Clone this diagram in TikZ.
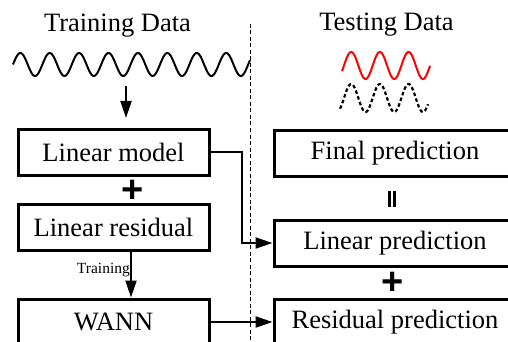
\documentclass[tikz,border=0pt]{standalone}
\usepackage{fontspec}
\setmainfont{Liberation Serif}
\newfontfamily\opfont{Liberation Sans}
\usetikzlibrary{arrows.meta}
\begin{document}
\begin{tikzpicture}[x=1pt,y=-1pt,
  box/.style={draw, line width=3pt, minimum height=46pt, inner sep=0pt,
    font=\rmfamily\fontsize{26.5}{30}\selectfont},
  lbox/.style={box, minimum width=191pt},
  rbox/.style={box, minimum width=242pt},
  link/.style={line width=2pt},
  arr/.style={link, -{Triangle[length=17pt,width=11pt]}},
  title/.style={font=\rmfamily\fontsize{26.5}{30}\selectfont, anchor=base, inner sep=0pt},
  op/.style={font=\opfont\bfseries\fontsize{38}{38}\selectfont, inner sep=0pt},
  % vertical equals sign: two upright bars
  eqbars/.style={minimum width=9pt, minimum height=16pt, inner sep=0pt,
    path picture={\draw[line width=3pt]
      ([xshift=-2.75pt]path picture bounding box.north) -- ([xshift=-2.75pt]path picture bounding box.south)
      ([xshift=2.75pt]path picture bounding box.north) -- ([xshift=2.75pt]path picture bounding box.south);}},
  wave/.style={line width=2pt},
]
\clip (0,0) rectangle (508,342);

% column titles
\node[title] (ttrain) at (117.5,32) {Training Data};
\node[title] (ttest) at (386.5,31) {Testing Data};

% separator between training and testing
\draw[line width=1pt, dash pattern=on 4pt off 2.5pt] (250,24) -- (250,342);

% signals (12.245 = 360/29.4, 12.544 = 360/28.7 degrees per unit)
\draw[wave] plot[domain=13:250, samples=260] (\x, {64.5-11.5*sin(12.245*(\x-13))});
\draw[wave, red] plot[domain=342:430, samples=120] (\x, {65.5-13.5*sin(12.544*(\x-344))});
\draw[wave, line width=2.2pt, dash pattern=on 3.5pt off 2.5pt]
  plot[domain=340:428, samples=120] (\x, {98-14*sin(12.544*(\x-344))});

% training side
\node[lbox] (lm) at (113.5,152) {Linear model};
\node[lbox] (lr) at (113.5,227.5) {Linear residual};
\node[lbox] (wann) at (113.5,322) {WANN};
\node[op] (plus1) at (133,191) {+};

% testing side
\node[rbox] (fp) at (395,153.5) {Final prediction};
\node[rbox] (lp) at (395,243) {Linear prediction};
\node[rbox] (rp) at (395,322) {Residual prediction};
\node[eqbars] (eq) at (392,199) {};
\node[op] (plus2) at (393,283) {+};

% connectors
\coordinate (win) at (126,86);
\coordinate (wout) at (126,118);
\draw[arr] (win) -- (wout);

\coordinate (bend) at (242,152);
\draw[arr] (lm.east) -- (bend) |- (lp.west);
\draw[arr] (wann.east) -- (rp.west);
\draw[arr] ([xshift=17.5pt]lr.south) -- ([xshift=17.5pt]wann.north);
\node[anchor=base east, inner sep=0pt, font=\rmfamily\fontsize{15.5}{18}\selectfont] (tlab) at (130,273) {Training};
\end{tikzpicture}
\end{document}
